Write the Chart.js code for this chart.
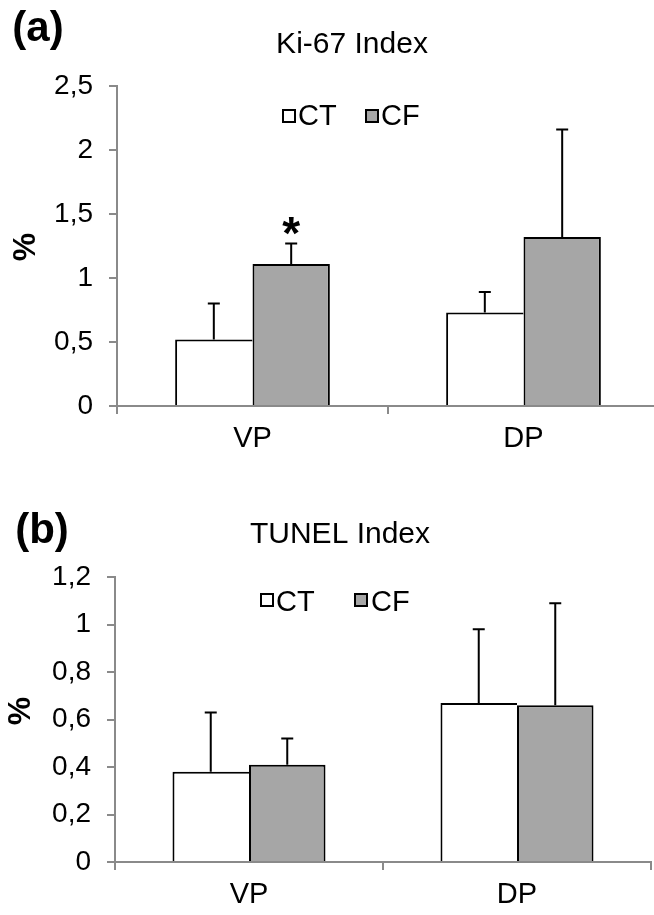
<!DOCTYPE html>
<html>
<head>
<meta charset="utf-8">
<script src="https://cdn.jsdelivr.net/npm/chart.js@4.4.1/dist/chart.umd.min.js"></script>
<style>
  body { margin: 0; background: #fff; overflow: hidden; }
  .panel { position: absolute; left: 0; width: 654px; overflow: hidden; }
</style>
</head>
<body>
<div class="panel" style="top:0;height:460px"><canvas id="chart-a" width="660" height="460"></canvas></div>
<div class="panel" style="top:460px;height:455px"><canvas id="chart-b" width="660" height="455"></canvas></div>
<script>
const categories = ["VP", "DP"];
const seriesNames = ["CT", "CF"];

// (a) Ki-67 index, mean and SD
const ki67CT = [0.52, 0.73];
const ki67CF = [1.11, 1.32];
const ki67CTErr = [0.28, 0.16];
const ki67CFErr = [0.16, 0.84];
const ki67CTMarks = ["", ""];
const ki67CFMarks = ["*", ""];
const ki67Ticks = ["0", "0,5", "1", "1,5", "2", "2,5"];

// (b) TUNEL index, mean and SD
const tunelCT = [0.38, 0.67];
const tunelCF = [0.41, 0.66];
const tunelCTErr = [0.25, 0.31];
const tunelCFErr = [0.11, 0.43];
const tunelCTMarks = ["", ""];
const tunelCFMarks = ["", ""];
const tunelTicks = ["0", "0,2", "0,4", "0,6", "0,8", "1", "1,2"];

const FONT = "'Liberation Sans', Arial, sans-serif";
const AXIS_GREY = "#8a8a8a";
Chart.defaults.font.family = FONT;
Chart.defaults.color = "#000";

// error bars, star, panel letter, title, y title and legend
const panelDecor = {
  id: "panelDecor",
  afterDatasetsDraw(chart, args, opts) {
    const ctx = chart.ctx;
    const yScale = chart.scales.y;
    chart.data.datasets.forEach((ds, i) => {
      const meta = chart.getDatasetMeta(i);
      meta.data.forEach((bar, j) => {
        const top = yScale.getPixelForValue(ds.data[j] + ds.errors[j]);
        ctx.save();
        ctx.strokeStyle = "#000";
        ctx.lineWidth = 2;
        ctx.beginPath();
        ctx.moveTo(bar.x, bar.y);
        ctx.lineTo(bar.x, top);
        ctx.moveTo(bar.x - 6, top);
        ctx.lineTo(bar.x + 6, top);
        ctx.stroke();
        if (ds.marks[j]) {
          ctx.fillStyle = "#000";
          ctx.font = "bold 46px " + FONT;
          ctx.textAlign = "center";
          ctx.textBaseline = "alphabetic";
          ctx.fillText(ds.marks[j], bar.x, top - 21 + 0.58 * 46);
        }
        ctx.restore();
      });
    });
  },
  afterDraw(chart, args, opts) {
    const ctx = chart.ctx;
    ctx.save();
    ctx.fillStyle = "#000";
    ctx.textBaseline = "alphabetic";

    ctx.font = "bold 42px " + FONT;
    ctx.textAlign = "center";
    ctx.fillText(opts.letter, opts.letterX, opts.letterY);

    ctx.font = "30px " + FONT;
    ctx.fillText(opts.title, opts.titleX, opts.titleY);

    // y axis title
    ctx.save();
    ctx.translate(opts.yTitleX, opts.yTitleY);
    ctx.rotate(-Math.PI / 2);
    ctx.font = "bold 32px " + FONT;
    ctx.textBaseline = "middle";
    ctx.fillText("%", 0, 0);
    ctx.restore();

    // legend
    ctx.font = "29px " + FONT;
    ctx.textAlign = "left";
    chart.data.datasets.forEach((ds, i) => {
      const item = opts.legend[i];
      ctx.fillStyle = ds.backgroundColor;
      ctx.fillRect(item.boxX, item.boxY, 14, 14);
      ctx.strokeStyle = "#000";
      ctx.lineWidth = 2;
      ctx.strokeRect(item.boxX + 1, item.boxY + 1, 12, 12);
      ctx.fillStyle = "#000";
      ctx.fillText(ds.label, item.textX, item.textY);
    });
    ctx.restore();
  }
};

function makeChart(canvasId, ctData, cfData, ctErr, cfErr, ctMarks, cfMarks, tickLabels, yMax, yStep, look) {
  return new Chart(document.getElementById(canvasId), {
    type: "bar",
    data: {
      labels: categories,
      datasets: [
        {
          label: seriesNames[0],
          data: ctData,
          errors: ctErr,
          marks: ctMarks,
          backgroundColor: "#ffffff",
          borderColor: "#000",
          borderWidth: { left: 2, top: 2, right: 0, bottom: 0 },
          borderSkipped: false,
          categoryPercentage: 0.571,
          barPercentage: 1.0
        },
        {
          label: seriesNames[1],
          data: cfData,
          errors: cfErr,
          marks: cfMarks,
          backgroundColor: "#a6a6a6",
          borderColor: "#000",
          borderWidth: { left: 2, top: 2, right: 2, bottom: 0 },
          borderSkipped: false,
          categoryPercentage: 0.571,
          barPercentage: 1.0
        }
      ]
    },
    options: {
      responsive: false,
      animation: false,
      devicePixelRatio: 1,
      layout: { padding: { top: look.top, right: look.right, left: 0, bottom: 0 } },
      plugins: {
        legend: { display: false },
        title: { display: false },
        tooltip: { enabled: false },
        panelDecor: look.decor
      },
      scales: {
        x: {
          ticks: { font: { size: 29 }, color: "#000", padding: 8 },
          grid: { drawOnChartArea: false, drawTicks: true, tickLength: 8, color: AXIS_GREY, lineWidth: 2, offset: true },
          border: { color: AXIS_GREY, width: 2 },
          afterFit: (s) => { s.height = look.xHeight; }
        },
        y: {
          min: 0,
          max: yMax,
          ticks: {
            stepSize: yStep,
            font: { size: 28 },
            color: "#000",
            padding: 16,
            callback: (v, i) => tickLabels[i]
          },
          grid: { drawOnChartArea: false, drawTicks: true, tickLength: 8, color: AXIS_GREY, lineWidth: 2 },
          border: { color: AXIS_GREY, width: 2 },
          afterFit: (s) => { s.width = look.yWidth; }
        }
      }
    },
    plugins: [panelDecor]
  });
}

makeChart("chart-a", ki67CT, ki67CF, ki67CTErr, ki67CFErr, ki67CTMarks, ki67CFMarks, ki67Ticks, 2.5, 0.5, {
  top: 86, right: 1, xHeight: 54, yWidth: 117,
  decor: {
    letter: "(a)", letterX: 38, letterY: 41,
    title: "Ki-67 Index", titleX: 352, titleY: 53,
    yTitleX: 26, yTitleY: 247,
    legend: [
      { boxX: 282, boxY: 109, textX: 298, textY: 125 },
      { boxX: 365, boxY: 109, textX: 381, textY: 125 }
    ]
  }
});

makeChart("chart-b", tunelCT, tunelCF, tunelCTErr, tunelCFErr, tunelCTMarks, tunelCFMarks, tunelTicks, 1.2, 0.2, {
  top: 117, right: 9, xHeight: 53, yWidth: 115,
  decor: {
    letter: "(b)", letterX: 42, letterY: 83,
    title: "TUNEL Index", titleX: 340, titleY: 83,
    yTitleX: 21, yTitleY: 251,
    legend: [
      { boxX: 260, boxY: 133, textX: 276, textY: 151 },
      { boxX: 354, boxY: 133, textX: 371, textY: 151 }
    ]
  }
});
</script>
</body>
</html>
